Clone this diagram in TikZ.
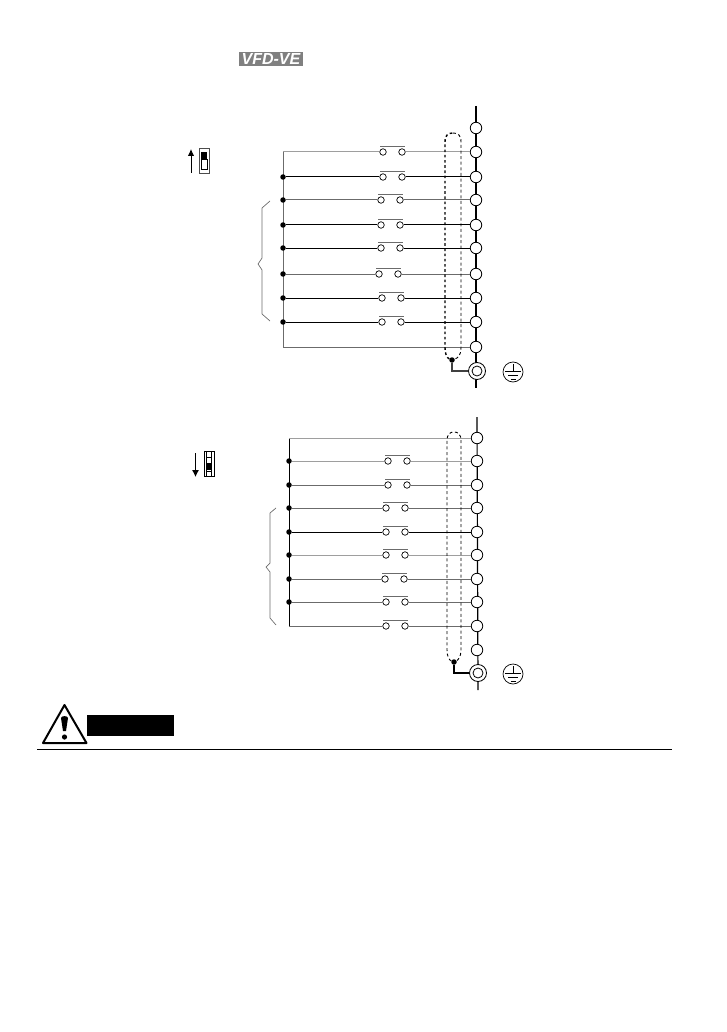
\documentclass[tikz,border=0pt]{standalone}
\usepackage{fontspec}
\usetikzlibrary{arrows.meta}
\setmainfont{Liberation Sans}
\definecolor{wgray}{gray}{0.62}
\definecolor{mgray}{gray}{0.42}
\tikzset{
  x=1pt,y=-1pt,
  term/.style={circle,draw=black,fill=white,line width=0.8pt,minimum size=11.5pt,inner sep=0pt},
  contact/.style={circle,draw=black,fill=white,line width=0.7pt,minimum size=6.5pt,inner sep=0pt},
  junction/.style={circle,fill=black,minimum size=5.5pt,inner sep=0pt},
  bar/.style={line width=1pt,draw=mgray},
  wire/.style={line width=1pt},
  bus/.style={line width=1.2pt},
  rail/.style={line width=0.9pt},
  shieldA/.style={line width=1.4pt,dash pattern=on 2.6pt off 2.6pt},
  shieldB/.style={line width=0.9pt,dash pattern=on 3pt off 2.6pt},
  gndmark/.style={circle,draw=black,line width=0.7pt,minimum size=20pt,inner sep=0pt},
  gterm/.style={circle,draw=black,fill=white,line width=0.8pt,minimum size=17pt,inner sep=0pt},
  gterminner/.style={circle,draw=black,fill=white,line width=0.8pt,minimum size=10pt,inner sep=0pt},
  brace/.style={line width=0.7pt,draw=mgray},
}
\begin{document}
\begin{tikzpicture}
\useasboundingbox (0,0) rectangle (726,1032);
% logo
\node[fill=black!50,minimum width=64pt,minimum height=14pt,inner sep=0pt,text=white,font=\bfseries\itshape\fontsize{16}{16}\selectfont] (logo) at (271,59) {VFD-VE};
%
% ===== upper diagram =====
\coordinate (ubtop) at (476,106);
\coordinate (ubbot) at (476,388);
\draw[bus] (ubtop) -- (ubbot);
\foreach \n/\y in {0/128,1/152,2/177,3/200,4/225,5/248,6/274,7/298,8/322,9/347}
  \node[term] (ut\n) at (476,\y) {};
\coordinate (ur1) at (283,152);
\coordinate (ur9) at (283,347);
\draw[wire,draw=mgray] (ur1) -- (ur9);
\draw[wire,draw=mgray] (ur9) -- (ut9);
\foreach \n/\y/\a/\col in {1/152/383/wgray,2/177/383/black,3/200/381/mgray,4/225/381/black,5/248/381/black,6/274/379/mgray,7/298/382/black,8/322/382/black}{
  \node[contact] (uca\n) at (\a,\y) {};
  \node[contact] (ucb\n) at ({\a+19},\y) {};
  \draw[bar] ([yshift=3pt]uca\n.north west) -- ([yshift=3pt]ucb\n.north east);
  \draw[wire,draw=\col] (ucb\n) -- (ut\n);
}
\draw[wire,draw=wgray] (ur1) -- (uca1);
\foreach \n/\y/\col in {2/177/black,3/200/mgray,4/225/black,5/248/black,6/274/mgray,7/298/black,8/322/black}{
  \node[junction] (uj\n) at (283,\y) {};
  \draw[wire,draw=\col] (uj\n) -- (uca\n);
}
\node[junction] (ush) at (452,360) {};
\node[gterm] (ug) at (477,371) {};
\node[gterminner] (ugi) at (477,371) {};
\draw[shieldA] (ush) .. controls (447,358) and (445,354) .. (445,348) -- (445,142) .. controls (445,135) and (448,133) .. (453,133);
\draw[shieldB] (453,133) .. controls (458,133) and (461,135) .. (461,142) -- (461,348) .. controls (461,355) and (458,358) .. (ush);
\draw[line width=1.4pt,draw=black!75] (ush) |- (ug);
\node[gndmark] (um) at (513,372) {};
\draw[line width=0.6pt] (513,364) -- (513,371) (505,371) -- (521,371) (508,375) -- (518,375) (510.5,379) -- (515.5,379);
% upper brace
\draw[brace] (270,201) -- (262,208) -- (262,258) -- (258,264) -- (262,270) -- (262,314) -- (270,321);
% upper switch
\draw[-{Latex[length=7pt,width=6.5pt]},line width=0.9pt] (191,173) -- (191,149);
\node[draw=black!70,line width=0.8pt,minimum width=10pt,minimum height=25pt,inner sep=0pt] (usw) at (204,160.5) {};
\fill[black] (201,152) rectangle (207,159);
\draw[line width=0.6pt] (201,159) rectangle (207,169);
%
% ===== lower diagram =====
\coordinate (lbtop) at (477,417);
\coordinate (lbbot) at (478,690);
\draw[bus] (lbtop) -- (lbbot);
\foreach \n/\y in {1/438,2/461,3/485,4/508,5/532,6/555,7/579,8/602,9/626,10/650}
  \node[term] (lt\n) at (477,\y) {};
\coordinate (lr1) at (289,438);
\coordinate (lr9) at (289,626);
\draw[rail] (lr1) -- (lr9);
\draw[wire,draw=wgray] (lr1) -- (lt1);
\foreach \n/\y/\a/\col in {2/461/388/wgray,3/485/388/mgray,4/508/386/mgray,5/532/386/black,6/555/386/wgray,7/579/385/mgray,8/602/386/mgray,9/626/386/mgray}{
  \node[contact] (lca\n) at (\a,\y) {};
  \node[contact] (lcb\n) at ({\a+19},\y) {};
  \draw[bar] ([yshift=3pt]lca\n.north west) -- ([yshift=3pt]lcb\n.north east);
  \draw[wire,draw=\col] (lcb\n) -- (lt\n);
}
\foreach \n/\y/\col in {2/461/wgray,3/485/mgray,4/508/mgray,5/532/black,6/555/wgray,7/579/mgray,8/602/mgray}{
  \node[junction] (lj\n) at (289,\y) {};
  \draw[wire,draw=\col] (lj\n) -- (lca\n);
}
\draw[wire,draw=mgray] (lr9) -- (lca9);
\node[junction] (lsh) at (454,662) {};
\node[gterm] (lg) at (478,673) {};
\node[gterminner] (lgi) at (478,673) {};
\draw[shieldB] (lsh) .. controls (449,660) and (447,656) .. (447,650) -- (447,441) .. controls (447,434) and (450,432) .. (454,432) .. controls (458,432) and (461,434) .. (461,441) -- (461,650) .. controls (461,657) and (458,660) .. (lsh);
\draw[line width=1.3pt] (lsh) |- (lg);
\node[gndmark] (lm) at (513,674) {};
\draw[line width=0.6pt] (513,666) -- (513,673) (505,673) -- (521,673) (508,677) -- (518,677) (510.5,681) -- (515.5,681);
% lower brace
\draw[brace] (276,508) -- (270,513) -- (270,563) -- (266,567) -- (270,572) -- (270,618) -- (276,625);
% lower switch
\draw[-{Latex[length=7pt,width=7pt]},line width=0.9pt] (195.5,453) -- (195.5,477);
\node[draw=black,line width=0.7pt,minimum width=10pt,minimum height=25pt,inner sep=0pt] (lsw) at (209,463.5) {};
\draw[line width=0.5pt] (206.5,451) -- (206.5,476) (211.5,451) -- (211.5,476) (206.5,457) -- (211.5,457) (206.5,471) -- (211.5,471);
\fill[black] (206.5,463) rectangle (211.5,470);
%
% ===== caution =====
\draw[line width=2pt,line join=round,fill=white] (64.5,705) -- (43,743) -- (86.5,743) -- cycle;
\fill[black] (61,718) .. controls (61,715.5) and (68,715.5) .. (68,718) -- (66,731) -- (63,731) -- cycle;
\fill[black] (64.5,737) circle (2.6pt);
\node[fill=black,minimum width=87pt,minimum height=21pt,inner sep=0pt] (caut) at (130.5,725.5) {};
\coordinate (rulea) at (37,749.5);
\coordinate (ruleb) at (672,749.5);
\draw[line width=0.9pt] (rulea) -- (ruleb);
\end{tikzpicture}
\end{document}
